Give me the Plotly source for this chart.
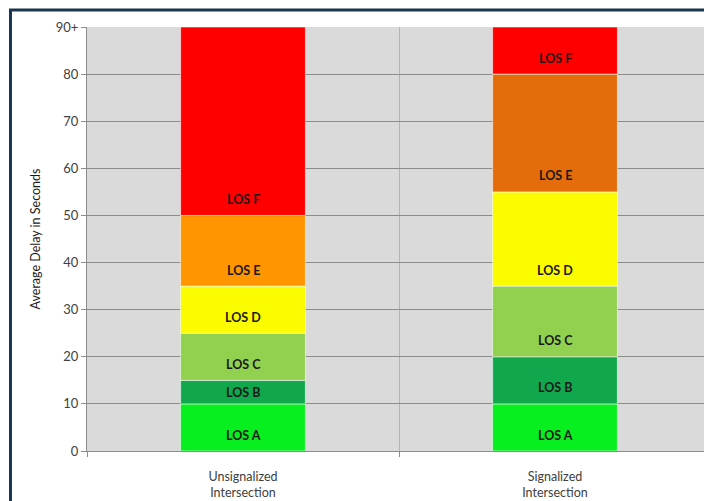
import plotly.graph_objects as go

# Level-of-service delay thresholds (seconds) for each intersection type
categories = ["Unsignalized<br>Intersection", "Signalized<br>Intersection"]
los_levels = ["LOS A", "LOS B", "LOS C", "LOS D", "LOS E", "LOS F"]
unsignalized_upper = [10, 15, 25, 35, 50, 90]
signalized_upper = [10, 20, 35, 55, 80, 90]

# Axis ticks
y_tickvals = [0, 10, 20, 30, 40, 50, 60, 70, 80, 90]
y_ticktext = ["0", "10", "20", "30", "40", "50", "60", "70", "80", "90+"]

# Segment colours, one per category
unsignalized_colors = ["#08ef1f", "#11a84d", "#92d050", "#fcfc00", "#ff9500", "#ff0000"]
signalized_colors = ["#08ef1f", "#11a84d", "#92d050", "#fcfc00", "#e46c0a", "#ff0000"]

W, H = 704, 501
M_L, M_R, M_T, M_B = 87, 0, 27, 50
plot_w = W - M_L - M_R
plot_h = H - M_T - M_B
cat_px = 312  # width of one category band
x_range = [-0.5, -0.5 + plot_w / cat_px]
y_range = [0, 90]
px_per_unit = plot_h / (y_range[1] - y_range[0])


def lower_bounds(upper):
    return [0] + upper[:-1]


fig = go.Figure()
uppers = [unsignalized_upper, signalized_upper]
colors = [unsignalized_colors, signalized_colors]
for i, level in enumerate(los_levels):
    bases = [lower_bounds(u)[i] for u in uppers]
    heights = [u[i] - b for u, b in zip(uppers, bases)]
    fig.add_trace(go.Bar(
        x=categories,
        y=heights,
        base=bases,
        width=0.4,
        marker=dict(color=[c[i] for c in colors],
                    line=dict(color="rgba(255,255,255,0.55)", width=1)),
        name=level,
        showlegend=False,
        hoverinfo="skip",
    ))

# Labels placed near the base of each segment
annotations = []
for cat, upper in zip(categories, uppers):
    for level, lo, hi in zip(los_levels, lower_bounds(upper), upper):
        seg_px = (hi - lo) * px_per_unit
        annotations.append(dict(
            x=cat, y=lo, xref="x", yref="y",
            text="<b>" + level + "</b>",
            showarrow=False, yanchor="middle",
            yshift=min(16, seg_px / 2),
            font=dict(family="Lato, Open Sans, sans-serif", size=12.5, color="#1a1a1a"),
        ))

# Dark frame along the top and left edges of the page
def px_to_paper_x(px):
    return (px - M_L) / plot_w


def px_to_paper_y(py):
    return (H - M_B - py) / plot_h


frame_color = "#1b3651"
shapes = [
    dict(type="line", xref="paper", yref="paper",
         x0=px_to_paper_x(9), x1=px_to_paper_x(W),
         y0=px_to_paper_y(10), y1=px_to_paper_y(10),
         line=dict(color=frame_color, width=3), layer="above"),
    dict(type="line", xref="paper", yref="paper",
         x0=px_to_paper_x(10.5), x1=px_to_paper_x(10.5),
         y0=px_to_paper_y(9), y1=px_to_paper_y(H),
         line=dict(color=frame_color, width=3), layer="above"),
]

fig.update_layout(
    width=W, height=H,
    margin=dict(l=M_L, r=M_R, t=M_T, b=M_B, pad=0),
    paper_bgcolor="white",
    plot_bgcolor="#dadada",
    barmode="overlay",
    annotations=annotations,
    shapes=shapes,
    font=dict(family="Lato, Open Sans, sans-serif", color="#404040"),
    xaxis=dict(
        range=x_range,
        type="category",
        tickson="boundaries",
        ticks="outside", ticklen=5, tickcolor="#8c8c8c",
        showgrid=True, gridcolor="#b4b4b4", gridwidth=1,
        showline=True, linecolor="#8c8c8c", linewidth=1,
        tickfont=dict(size=12.5, color="#404040"),
        ticklabelstandoff=14,
        fixedrange=True,
    ),
    yaxis=dict(
        range=y_range,
        tickvals=y_tickvals, ticktext=y_ticktext,
        ticks="outside", ticklen=5, tickcolor="#8c8c8c",
        showgrid=True, gridcolor="#8c8c8c", gridwidth=1,
        showline=True, linecolor="#8c8c8c", linewidth=1,
        zeroline=False,
        tickfont=dict(size=13, color="#404040"),
        title=dict(text="Average Delay in Seconds", standoff=12,
                   font=dict(size=12.5, color="#1a1a1a")),
        fixedrange=True,
    ),
)

fig.write_html("out.html", config={"displayModeBar": False})
